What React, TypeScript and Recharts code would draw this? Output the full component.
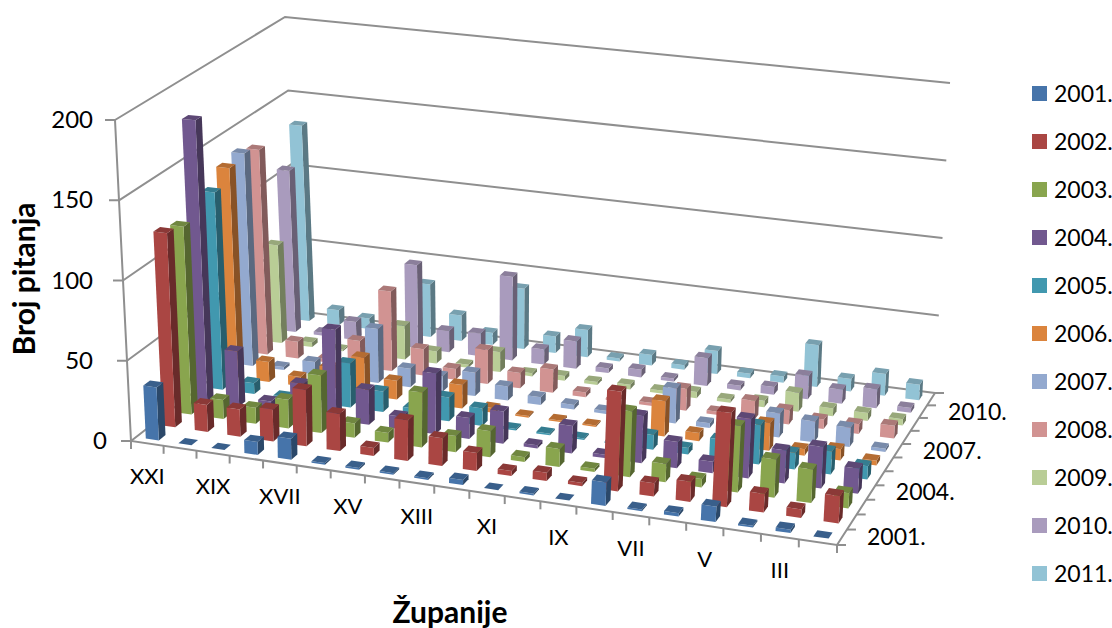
// 3D column look: Recharts scales give value + category, a small projection puts them on the floor/walls
import React from 'react';
import { BarChart, Bar, XAxis, YAxis, Customized } from 'recharts';

const categories = ['XXI', 'XX', 'XIX', 'XVIII', 'XVII', 'XVI', 'XV', 'XIV', 'XIII', 'XII', 'XI', 'X', 'IX', 'VIII', 'VII', 'VI', 'V', 'IV', 'III', 'II'];
const years = ['2001.', '2002.', '2003.', '2004.', '2005.', '2006.', '2007.', '2008.', '2009.', '2010.', '2011.'];
const colors = ['#4674AA', '#AA4643', '#89A54E', '#71588F', '#4198AF', '#DB843D', '#93A9CF', '#D19392', '#B9CD96', '#A99BBD', '#92C3D5'];
const yTicks = [0, 50, 100, 150, 200];

const v2001 = [33, 0, 0, 8, 13, 1, 1, 1, 1, 3, 0, 1, 0, 14, 1, 2, 9, 1, 2, 0];
const v2002 = [122, 17, 17, 20, 35, 23, 5, 25, 17, 11, 3, 5, 2, 60, 8, 12, 56, 11, 5, 16];
const v2003 = [119, 12, 10, 18, 36, 9, 6, 34, 10, 16, 3, 11, 2, 40, 11, 5, 40, 23, 20, 9];
const v2004 = [180, 35, 6, 20, 57, 22, 8, 38, 13, 20, 2, 17, 2, 29, 16, 7, 36, 20, 25, 15];
const v2005 = [127, 7, 1, 8, 28, 13, 5, 15, 11, 1, 1, 1, 1, 9, 4, 12, 24, 10, 14, 8];
const v2006 = [136, 13, 6, 15, 24, 12, 5, 15, 3, 1, 1, 1, 0, 22, 5, 5, 17, 4, 7, 3];
const v2007 = [139, 2, 8, 8, 35, 12, 10, 15, 9, 5, 3, 2, 2, 22, 3, 3, 15, 13, 12, 2];
const v2008 = [135, 11, 2, 17, 52, 17, 7, 22, 10, 15, 3, 1, 2, 14, 2, 12, 9, 6, 6, 8];
const v2009 = [65, 3, 1, 2, 22, 8, 2, 13, 2, 3, 2, 3, 2, 4, 2, 4, 12, 5, 5, 4];
const v2010 = [108, 2, 12, 8, 55, 14, 15, 55, 10, 18, 3, 5, 2, 18, 3, 5, 15, 9, 12, 3];
const v2011 = [132, 10, 7, 4, 35, 17, 8, 40, 11, 18, 2, 7, 3, 15, 3, 4, 27, 8, 14, 10];
const series = [v2001, v2002, v2003, v2004, v2005, v2006, v2007, v2008, v2009, v2010, v2011];

const data = categories.map((name, i) => {
  const row: any = { name };
  years.forEach((y, s) => { row[y] = series[s][i]; });
  return row;
});

const W = 1112;
const H = 628;
const MARGIN = { top: 100, right: 100, bottom: 80, left: 80 };
const AXIS_W = 20;
const AXIS_H = 20;
const PLOT_LEFT = MARGIN.left + AXIS_W;
const PLOT_W = W - PLOT_LEFT - MARGIN.right;
const PLOT_H = H - MARGIN.top - MARGIN.bottom - AXIS_H;
const GRAY = '#8f8f8f';
const FONT = 'Lato, sans-serif';

type Pt = [number, number];

// unit square -> quad, corners: front-left, front-right, back-right, back-left
function quadMap(p0: Pt, p1: Pt, p2: Pt, p3: Pt) {
  const dx1 = p1[0] - p2[0], dx2 = p3[0] - p2[0], sx = p0[0] - p1[0] + p2[0] - p3[0];
  const dy1 = p1[1] - p2[1], dy2 = p3[1] - p2[1], sy = p0[1] - p1[1] + p2[1] - p3[1];
  const den = dx1 * dy2 - dx2 * dy1;
  const g = (sx * dy2 - dx2 * sy) / den;
  const h = (dx1 * sy - sx * dy1) / den;
  const a = p1[0] - p0[0] + g * p1[0], b = p3[0] - p0[0] + h * p3[0];
  const d = p1[1] - p0[1] + g * p1[1], e = p3[1] - p0[1] + h * p3[1];
  return (u: number, v: number): Pt => {
    const q = g * u + h * v + 1;
    return [(a * u + b * v + p0[0]) / q, (d * u + e * v + p0[1]) / q];
  };
}

const floor = quadMap([131, 441], [837, 545], [935, 393], [298, 311]);
const ceil = quadMap([115, 120], [857, 200], [950, 83], [285, 17]);

function project(u: number, v: number, t: number): Pt {
  const a = floor(u, v);
  const b = ceil(u, v);
  return [a[0] + (b[0] - a[0]) * t, a[1] + (b[1] - a[1]) * t];
}

const pts = (list: Pt[]) => list.map((p) => `${p[0].toFixed(1)},${p[1].toFixed(1)}`).join(' ');

function shade(hex: string, k: number) {
  const n = parseInt(hex.slice(1), 16);
  const c = (x: number) => Math.round(x * k);
  return `rgb(${c(n >> 16)},${c((n >> 8) & 255)},${c(n & 255)})`;
}

function Column3D(props: any) {
  const { x, width, height, row, color } = props;
  const band = PLOT_W / categories.length;
  const col = Math.floor((x + width / 2 - PLOT_LEFT) / band);
  const t = (height || 0) / PLOT_H;
  const u0 = (col + 0.3) / categories.length;
  const u1 = (col + 0.7) / categories.length;
  const v0 = (row + 0.3) / years.length;
  const v1 = (row + 0.7) / years.length;
  const flb = project(u0, v0, 0), frb = project(u1, v0, 0), brb = project(u1, v1, 0);
  const flt = project(u0, v0, t), frt = project(u1, v0, t), brt = project(u1, v1, t), blt = project(u0, v1, t);
  return (
    <g>
      <polygon points={pts([frb, brb, brt, frt])} fill={shade(color, 0.62)} />
      <polygon points={pts([flb, frb, frt, flt])} fill={color} />
      <polygon points={pts([flt, frt, brt, blt])} fill={shade(color, 0.82)} />
    </g>
  );
}

function Frame() {
  return (
    <g>
      {yTicks.map((v) => {
        const t = v / 200;
        const a = project(0, 0, t);
        return (
          <g key={v}>
            <polyline points={pts([a, project(0, 1, t), project(1, 1, t)])} fill="none" stroke={GRAY} strokeWidth={2} />
            <line x1={a[0] - 10} y1={a[1]} x2={a[0]} y2={a[1]} stroke={GRAY} strokeWidth={2} />
          </g>
        );
      })}
      <polyline points={pts([project(0, 0, 1), project(0, 0, 0), project(1, 0, 0), project(1, 1, 0)])} fill="none" stroke={GRAY} strokeWidth={2} />
      {categories.concat(['']).map((_, i) => {
        const p = project(i / categories.length, 0, 0);
        return <line key={i} x1={p[0]} y1={p[1]} x2={p[0]} y2={p[1] + 8} stroke={GRAY} strokeWidth={2} />;
      })}
      {years.concat(['']).map((_, i) => {
        const p = project(1, i / years.length, 0);
        return <line key={i} x1={p[0]} y1={p[1]} x2={p[0] + 9} y2={p[1]} stroke={GRAY} strokeWidth={2} />;
      })}
      {years.map((y, i) => {
        if (i % 3 !== 0) return null;
        const p = project(1, (i + 0.5) / years.length, 0);
        return (
          <text key={y} x={p[0] + 25} y={p[1] + 8} fontSize={23} fontFamily={FONT} fill="#000">{y}</text>
        );
      })}
      {years.map((y, i) => (
        <g key={y}>
          <rect x={1032} y={86 + i * 48} width={15} height={15} fill={colors[i]} />
          <text x={1054} y={101.5 + i * 48} fontSize={23} fontFamily={FONT} fill="#000">{y}</text>
        </g>
      ))}
      <text x={0} y={0} transform="translate(35,279) rotate(-90)" textAnchor="middle" fontSize={30} fontWeight={700} fontFamily={FONT} fill="#000">Broj pitanja</text>
      <text x={450} y={623} textAnchor="middle" fontSize={30} fontWeight={700} fontFamily={FONT} fill="#000">Županije</text>
    </g>
  );
}

function CategoryTick(props: any) {
  const { x, index, payload } = props;
  if (index % 2 !== 0) return null;
  const p = project((x - PLOT_LEFT) / PLOT_W, 0, 0);
  return (
    <text x={p[0]} y={p[1] + 41} textAnchor="middle" fontSize={22} fontFamily={FONT} fill="#000">{payload.value}</text>
  );
}

function ValueTick(props: any) {
  const { y, payload } = props;
  const p = project(0, 0, (MARGIN.top + PLOT_H - y) / PLOT_H);
  const right = payload.value === 0 ? 107 : 93;
  return (
    <text x={right} y={p[1] + 8} textAnchor="end" fontSize={24} fontFamily={FONT} fill="#000">{payload.value}</text>
  );
}

export default function App() {
  return (
    <div style={{ position: 'absolute', left: 0, top: 0, width: W, height: H }}>
      <BarChart width={W} height={H} data={data} margin={MARGIN} barGap={0} barCategoryGap={0}>
        <Customized component={Frame} />
        <XAxis dataKey="name" height={AXIS_H} interval={0} axisLine={false} tickLine={false} tick={<CategoryTick />} />
        <YAxis type="number" domain={[0, 200]} ticks={yTicks} width={AXIS_W} axisLine={false} tickLine={false} tick={<ValueTick />} />
        {years.map((_, i) => years.length - 1 - i).map((row) => (
          <Bar
            key={years[row]}
            dataKey={years[row]}
            isAnimationActive={false}
            fill={colors[row]}
            shape={(p: any) => <Column3D {...p} row={row} color={colors[row]} />}
          />
        ))}
      </BarChart>
    </div>
  );
}
